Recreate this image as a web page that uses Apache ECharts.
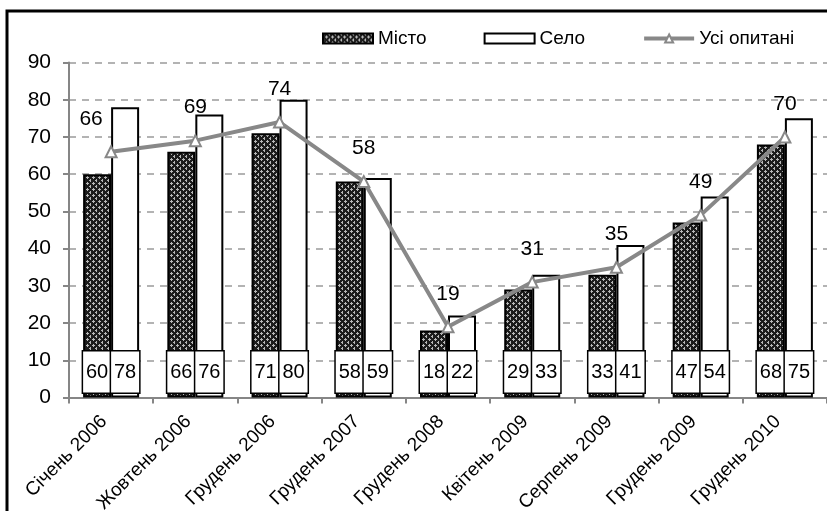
<!DOCTYPE html>
<html>
<head>
<meta charset="utf-8">
<script src="https://cdn.jsdelivr.net/npm/echarts@6/dist/echarts.min.js"></script>
<style>
  html, body { margin: 0; padding: 0; background: #fff; }
  #chart { width: 827px; height: 511px; }
</style>
</head>
<body>
<div id="chart"></div>
<script>
// Survey waves (x axis categories)
const categories = ['Січень 2006', 'Жовтень 2006', 'Грудень 2006', 'Грудень 2007', 'Грудень 2008',
                    'Квітень 2009', 'Серпень 2009', 'Грудень 2009', 'Грудень 2010'];
// Urban respondents, %
const mistoValues = [60, 66, 71, 58, 18, 29, 33, 47, 68];
// Rural respondents, %
const seloValues = [78, 76, 80, 59, 22, 33, 41, 54, 75];
// All respondents, %
const allValues = [66, 69, 74, 58, 19, 31, 35, 49, 70];
// Y axis range
const yMin = 0, yMax = 90, yStep = 10;

const FONT = '"Liberation Sans", Arial, sans-serif';

// Dark cross-hatched fill for the urban bars
function makeHatch() {
  const c = document.createElement('canvas');
  c.width = 6; c.height = 6;
  const g = c.getContext('2d');
  g.fillStyle = '#1c1c1c';
  g.fillRect(0, 0, 6, 6);
  g.fillStyle = '#b8b8b8';
  // small plus marks on a diamond lattice
  g.fillRect(3, 2, 1, 3);
  g.fillRect(2, 3, 3, 1);
  g.fillRect(0, 0, 1, 2);
  g.fillRect(0, 5, 1, 1);
  g.fillRect(5, 0, 1, 1);
  return c;
}
const hatch = { image: makeHatch(), repeat: 'repeat' };

// White value box sitting at the foot of each bar
const boxLabel = {
  show: true,
  position: 'insideBottom',
  distance: 5,
  width: 28,
  height: 41,
  lineHeight: 41,
  align: 'center',
  padding: 0,
  backgroundColor: '#fff',
  borderColor: '#000',
  borderWidth: 1.5,
  color: '#000',
  fontFamily: FONT,
  fontSize: 20
};

// The first point's label is nudged left, clear of the neighbouring bar
const allData = allValues.map((v, i) =>
  i === 0 ? { value: v, label: { offset: [-20, 0] } } : v);

const chart = echarts.init(document.getElementById('chart'), null, { renderer: 'canvas' });
chart.setOption({
  animation: false,
  backgroundColor: '#fff',
  graphic: [{
    type: 'rect',
    shape: { x: 7, y: 11, width: 840, height: 540 },
    style: { fill: 'none', stroke: '#000', lineWidth: 3 },
    z: 100
  }],
  legend: {
    left: 322,
    top: 29,
    padding: 0,
    itemWidth: 50,
    itemHeight: 10,
    itemGap: 57,
    textStyle: { fontFamily: FONT, fontSize: 19, color: '#000' },
    data: [
      { name: 'Місто', icon: 'rect' },
      { name: 'Село', icon: 'rect' },
      { name: 'Усі опитані', lineStyle: { width: 4, color: '#888' } }
    ]
  },
  grid: { left: 69, right: 0, top: 62.5, bottom: 113.5, outerBoundsMode: 'none' },
  xAxis: {
    type: 'category',
    data: categories,
    axisLine: { lineStyle: { color: '#868686', width: 2 } },
    axisTick: { show: true, length: 6, lineStyle: { color: '#868686', width: 2 } },
    axisLabel: {
      rotate: 45,
      interval: 0,
      margin: 14,
      padding: [0, 10, 0, 0],
      fontFamily: FONT,
      fontSize: 19,
      color: '#000'
    }
  },
  yAxis: {
    type: 'value',
    min: yMin,
    max: yMax,
    interval: yStep,
    axisLine: { show: true, lineStyle: { color: '#868686', width: 2 } },
    axisTick: { show: true, length: 6, lineStyle: { color: '#868686', width: 2 } },
    axisLabel: { margin: 18, fontFamily: FONT, fontSize: 21, color: '#000' },
    splitLine: { lineStyle: { color: '#9a9a9a', width: 1.5, type: [7, 6] } }
  },
  series: [
    {
      name: 'Місто',
      type: 'bar',
      data: mistoValues,
      barWidth: 28,
      barGap: '0%',
      itemStyle: { color: hatch, borderColor: '#000', borderWidth: 2 },
      label: boxLabel,
      z: 2
    },
    {
      name: 'Село',
      type: 'bar',
      data: seloValues,
      barWidth: 28,
      barGap: '0%',
      itemStyle: { color: '#fff', borderColor: '#000', borderWidth: 2 },
      label: boxLabel,
      z: 2
    },
    {
      name: 'Усі опитані',
      type: 'line',
      data: allData,
      symbol: 'triangle',
      symbolSize: 11,
      lineStyle: { color: '#888', width: 4 },
      itemStyle: { color: '#fff', borderColor: '#888', borderWidth: 2 },
      label: {
        show: true,
        position: 'top',
        distance: 16,
        fontFamily: FONT,
        fontSize: 21,
        color: '#000'
      },
      z: 5
    }
  ]
});
</script>
</body>
</html>
